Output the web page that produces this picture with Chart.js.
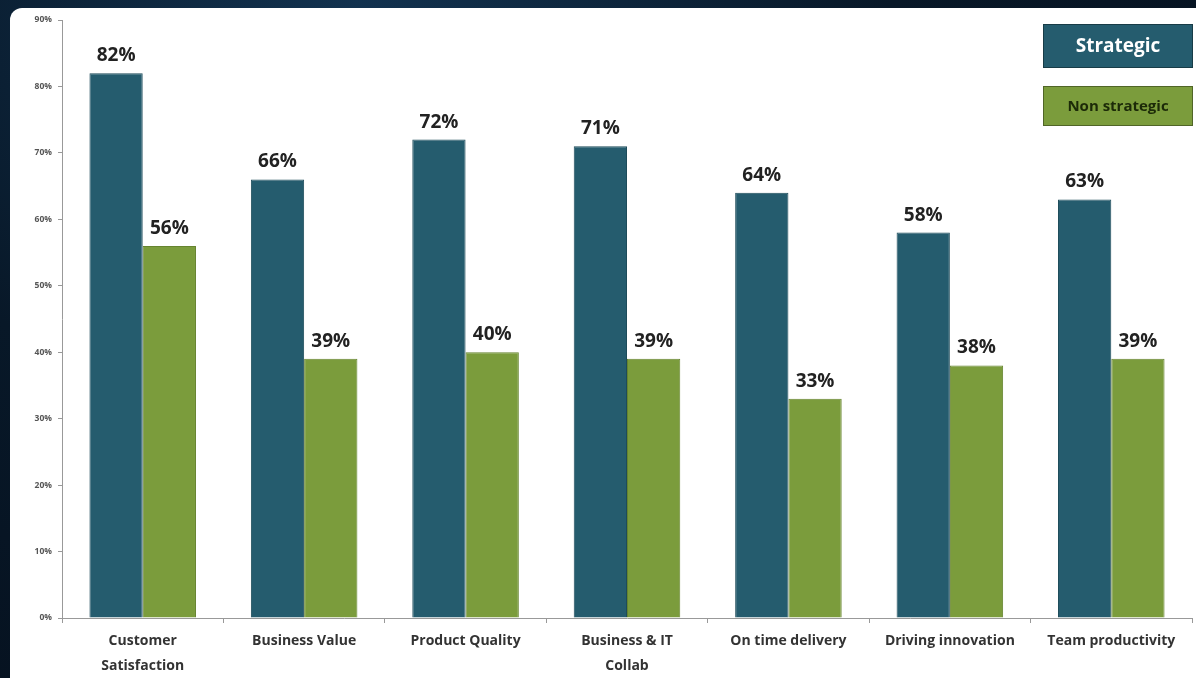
<!DOCTYPE html>
<html>
<head>
<meta charset="utf-8">
<script src="https://cdn.jsdelivr.net/npm/chart.js@4/dist/chart.umd.min.js"></script>
<style>
  html, body { margin: 0; padding: 0; }
  body {
    width: 1196px; height: 678px; overflow: hidden;
    background: radial-gradient(ellipse at 30% 0%, #12324f 0%, #081828 45%, #050f1c 100%);
    position: relative;
  }
  #panel {
    position: absolute; left: 10px; top: 8px; width: 1186px; height: 670px;
    background: #fff; border-top-left-radius: 12px; overflow: hidden;
  }
</style>
</head>
<body>
<div id="panel"><canvas id="chart" width="1186" height="670"></canvas></div>
<script>
// chart data
var categories = [["Customer", "Satisfaction"], "Business Value", "Product Quality",
  ["Business & IT", "Collab"], "On time delivery", "Driving innovation", "Team productivity"];
var strategic = [82, 66, 72, 71, 64, 58, 63];
var nonStrategic = [56, 39, 40, 39, 33, 38, 39];
var yTicks = [0, 10, 20, 30, 40, 50, 60, 70, 80, 90];

var teal = "#255c6e";
var green = "#7b9c3c";

// value labels above each bar
var valueLabels = {
  id: "valueLabels",
  afterDatasetsDraw: function(chart) {
    var ctx = chart.ctx;
    ctx.save();
    ctx.font = "bold 19px 'Open Sans', sans-serif";
    ctx.fillStyle = "#222";
    ctx.textAlign = "center";
    ctx.textBaseline = "bottom";
    chart.data.datasets.forEach(function(ds, i) {
      chart.getDatasetMeta(i).data.forEach(function(bar, j) {
        ctx.fillText(ds.data[j] + "%", bar.x, bar.y - 8);
      });
    });
    ctx.restore();
  }
};

// boxed legend in the top right corner
var boxLegend = {
  id: "boxLegend",
  afterDraw: function(chart) {
    var ctx = chart.ctx;
    var boxes = [
      { y: 16, h: 44, font: "bold 19px 'Open Sans', sans-serif", text: "#fff" },
      { y: 78, h: 40, font: "bold 15px 'Open Sans', sans-serif", text: "#1c2a08" }
    ];
    ctx.save();
    chart.data.datasets.forEach(function(ds, i) {
      var b = boxes[i];
      ctx.fillStyle = ds.backgroundColor;
      ctx.fillRect(1033, b.y, 150, b.h);
      ctx.strokeStyle = "rgba(0,0,0,0.35)";
      ctx.lineWidth = 1;
      ctx.strokeRect(1033.5, b.y + 0.5, 149, b.h - 1);
      ctx.fillStyle = b.text;
      ctx.font = b.font;
      ctx.textAlign = "center";
      ctx.textBaseline = "middle";
      ctx.fillText(ds.label, 1108, b.y + b.h / 2 + 1);
    });
    ctx.restore();
  }
};

new Chart(document.getElementById("chart"), {
  type: "bar",
  data: {
    labels: categories,
    datasets: [
      { label: "Strategic", data: strategic, backgroundColor: teal, borderColor: "#1d4b5a", borderWidth: 1 },
      { label: "Non strategic", data: nonStrategic, backgroundColor: green, borderColor: "#66842f", borderWidth: 1 }
    ]
  },
  options: {
    responsive: false,
    animation: false,
    categoryPercentage: 0.66,
    barPercentage: 1.0,
    layout: { padding: { top: 12, right: 4, left: 0, bottom: 0 } },
    plugins: { legend: { display: false }, tooltip: { enabled: false } },
    scales: {
      y: {
        min: 0, max: 90,
        afterFit: function(scale) { scale.width = 52; },
        afterBuildTicks: function(scale) { scale.ticks = yTicks.map(function(v) { return { value: v }; }); },
        ticks: {
          padding: 6,
          color: "#555",
          font: { family: "'Open Sans', sans-serif", size: 8.5, weight: "bold" },
          callback: function(v) { return v + "%"; }
        },
        grid: { display: true, drawOnChartArea: false, tickLength: 4, color: "#999" },
        border: { color: "#999" }
      },
      x: {
        afterFit: function(scale) { scale.height = 60; },
        ticks: {
          padding: 6,
          color: "#333",
          maxRotation: 0,
          autoSkip: false,
          font: { family: "'Open Sans', sans-serif", size: 14, weight: "bold", lineHeight: 1.75 }
        },
        grid: { display: true, drawOnChartArea: false, tickLength: 5, color: "#999" },
        border: { color: "#999" }
      }
    }
  },
  plugins: [valueLabels, boxLegend]
});
</script>
</body>
</html>
